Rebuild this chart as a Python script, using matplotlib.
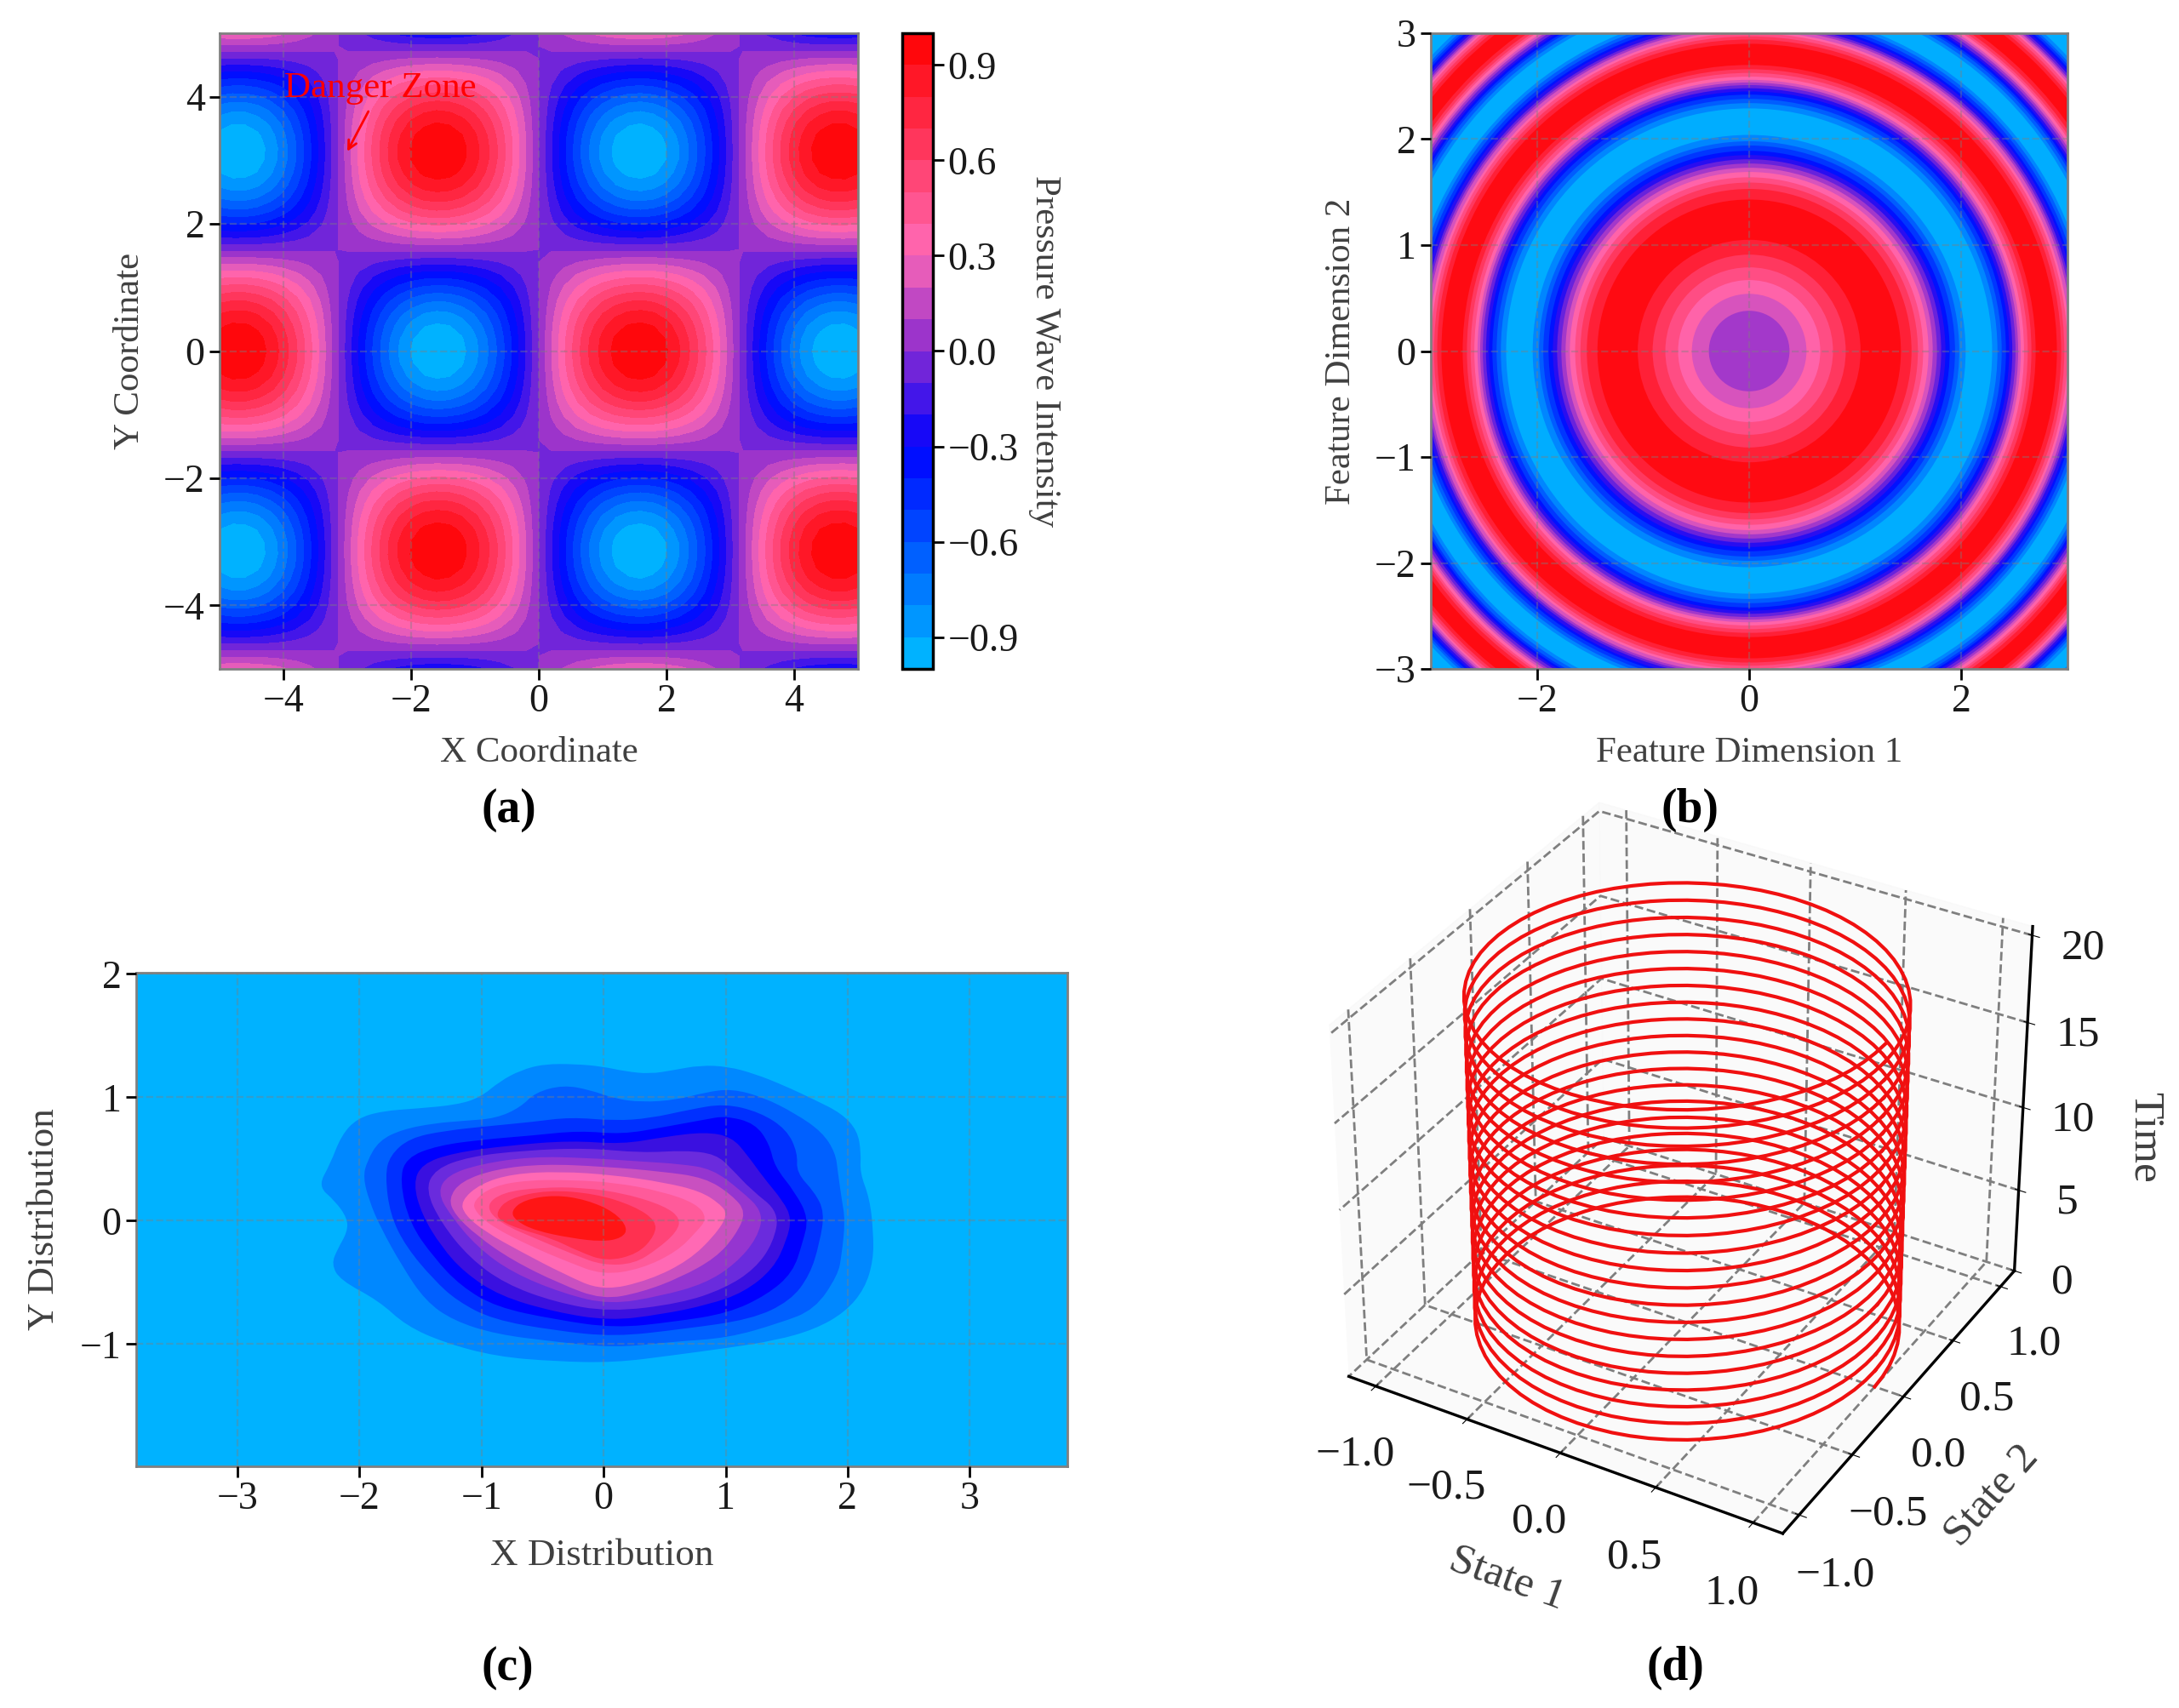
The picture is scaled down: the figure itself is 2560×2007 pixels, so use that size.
import numpy as np
import matplotlib
matplotlib.use('Agg')
import matplotlib.pyplot as plt
from matplotlib.colors import LinearSegmentedColormap, Normalize
from matplotlib.patches import Circle, PathPatch
from matplotlib.path import Path

# panel (a), the field is the product of these two profiles
a_x = [-5.0, -4.8, -4.6, -4.4, -4.2, -4.0, -3.8, -3.6, -3.4, -3.2, -3.0, -2.8, -2.6, -2.4, -2.2, -2.0, -1.8,
       -1.6, -1.4, -1.2, -1.0, -0.8, -0.6, -0.4, -0.2, 0.0, 0.2, 0.4, 0.6, 0.8, 1.0, 1.2, 1.4, 1.6, 1.8, 2.0,
       2.2, 2.4, 2.6, 2.8, 3.0, 3.2, 3.4, 3.6, 3.8, 4.0, 4.2, 4.4, 4.6, 4.8, 5.0]
a_x_profile = [0.959, 0.996, 0.994, 0.952, 0.872, 0.757, 0.612, 0.443, 0.256, 0.058, -0.141, -0.335, -0.516,
               -0.675, -0.808, -0.909, -0.974, -1.0, -0.985, -0.932, -0.841, -0.717, -0.565, -0.389, -0.199,
               0.0, 0.199, 0.389, 0.565, 0.717, 0.841, 0.932, 0.985, 1.0, 0.974, 0.909, 0.808, 0.675, 0.516,
               0.335, 0.141, -0.058, -0.256, -0.443, -0.612, -0.757, -0.872, -0.952, -0.994, -0.996, -0.959]
a_y = a_x
a_y_profile = [0.284, 0.087, -0.112, -0.307, -0.490, -0.654, -0.791, -0.897, -0.967, -0.998, -0.990, -0.942,
               -0.857, -0.737, -0.589, -0.416, -0.227, -0.029, 0.170, 0.362, 0.540, 0.697, 0.825, 0.921, 0.980,
               1.0, 0.980, 0.921, 0.825, 0.697, 0.540, 0.362, 0.170, -0.029, -0.227, -0.416, -0.589, -0.737,
               -0.857, -0.942, -0.990, -0.998, -0.967, -0.897, -0.791, -0.654, -0.490, -0.307, -0.112, 0.087, 0.284]
a_levels = [-1.0, -0.9, -0.8, -0.7, -0.6, -0.5, -0.4, -0.3, -0.2, -0.1, 0.0, 0.1, 0.2, 0.3, 0.4, 0.5, 0.6, 0.7, 0.8, 0.9, 1.0]
a_cbar_ticks = [-0.9, -0.6, -0.3, 0.0, 0.3, 0.6, 0.9]

# panel (b), outer radius and value of each ring, from the centre out
b_ring_radius = [0.38, 0.54, 0.67, 0.79, 0.91, 1.05, 1.43, 1.53, 1.59, 1.64, 1.69, 1.73, 1.77,
                 1.81, 1.85, 1.89, 1.94, 1.98, 2.04, 2.29, 2.34, 2.38, 2.42, 2.45, 2.48, 2.51,
                 2.535, 2.56, 2.59, 2.625, 2.66, 2.70, 2.90, 2.94, 2.97, 3.00, 3.02, 3.05, 3.07,
                 3.09, 3.12, 3.14, 3.17, 3.20, 3.23, 3.40, 3.43, 3.46, 3.48, 3.50, 3.52, 3.545,
                 3.565, 3.585, 3.61, 3.63, 3.655, 3.69, 3.83, 3.86, 3.885, 3.91, 3.925, 3.945, 3.96,
                 3.98, 4.0, 4.02, 4.04, 4.06, 4.09, 4.22, 4.25]
b_hump_up = [0.07, 0.21, 0.36, 0.50, 0.64, 0.79, 0.93, 0.79, 0.64, 0.50, 0.36, 0.21, 0.07]
b_hump_down = [-0.07, -0.21, -0.36, -0.50, -0.64, -0.79, -0.93, -0.79, -0.64, -0.50, -0.36, -0.21, -0.07]
b_ring_value = b_hump_up + b_hump_down + b_hump_up + b_hump_down + b_hump_up + b_hump_down[:8]

# panel (c), contour outlines, outermost first
c_band_01 = [(-2.34, .28), (-2.24, .46), (-2.15, .69), (-2.02, .83), (-1.81, .89), (-1.52, .91), (-1.20, .94),
             (-1.01, 1.00), (-.85, 1.13), (-.68, 1.22), (-.49, 1.27), (-.23, 1.27), (-.01, 1.25), (.18, 1.21),
             (.38, 1.19), (.57, 1.22), (.79, 1.26), (1.02, 1.25), (1.24, 1.19), (1.47, 1.10), (1.73, .98),
             (1.95, .87), (2.08, .73), (2.11, .55), (2.10, .39), (2.18, .18), (2.21, -.09), (2.21, -.32),
             (2.14, -.55), (1.98, -.74), (1.73, -.88), (1.41, -.97), (1.02, -1.03), (.57, -1.09), (.09, -1.15),
             (-.40, -1.14), (-.88, -1.10), (-1.30, -.99), (-1.62, -.85), (-1.84, -.65), (-2.16, -.48),
             (-2.23, -.35), (-2.18, -.23), (-2.10, -.09), (-2.10, .02), (-2.20, .16)]
c_band_02 = [(-1.97, .35), (-1.94, .48), (-1.84, .65), (-1.65, .74), (-1.39, .79), (-1.14, .81), (-.88, .83),
             (-.68, .92), (-.56, 1.04), (-.33, 1.10), (-.11, 1.06), (.09, .99), (.31, .96), (.60, .98), (.83, 1.04),
             (1.05, 1.07), (1.31, 1.00), (1.57, .87), (1.79, .72), (1.90, .55), (1.92, .39), (1.95, .18), (1.98, 0),
             (1.95, -.28), (1.92, -.44), (1.73, -.72), (1.44, -.83), (1.02, -.95), (.57, -.98), (.09, -1.03),
             (-.40, -.98), (-.88, -.92), (-1.23, -.81), (-1.46, -.65), (-1.65, -.37), (-1.83, -.05), (-1.92, .16)]
c_band_03 = [(-1.79, .37), (-1.75, .53), (-1.59, .67), (-1.30, .73), (-.91, .77), (-.59, .80), (-.27, .84), (.09, .81),
             (.38, .83), (.70, .90), (.99, .95), (1.28, .88), (1.50, .74), (1.59, .55), (1.58, .39), (1.73, .23),
             (1.81, .07), (1.77, -.18), (1.69, -.44), (1.53, -.65), (1.21, -.80), (.63, -.88), (.09, -.94),
             (-.40, -.89), (-.91, -.80), (-1.20, -.65), (-1.39, -.48), (-1.62, -.21), (-1.75, .05)]
c_band_04 = [(-1.67, .32), (-1.62, .51), (-1.36, .61), (-.97, .66), (-.59, .69), (-.20, .73), (.15, .70), (.50, .76),
             (.83, .82), (1.00, .85), (1.24, .79), (1.36, .62), (1.40, .44), (1.57, .23), (1.68, .02), (1.63, -.18),
             (1.55, -.42), (1.34, -.60), (1.02, -.75), (.57, -.82), (.09, -.87), (-.40, -.80), (-.88, -.70),
             (-1.17, -.53), (-1.39, -.30), (-1.59, -.02)]
c_band_05 = [(-1.56, .30), (-1.49, .46), (-1.23, .55), (-.78, .61), (-.27, .65), (.15, .62), (.50, .68), (.83, .72),
             (1.05, .68), (1.18, .53), (1.31, .35), (1.47, .16), (1.54, .02), (1.50, -.16), (1.39, -.39), (1.15, -.58),
             (.86, -.68), (.47, -.76), (.05, -.81), (-.40, -.74), (-.85, -.61), (-1.14, -.42), (-1.33, -.21), (-1.49, .05)]
c_band_06 = [(-1.46, .25), (-1.38, .42), (-1.10, .52), (-.65, .57), (-.14, .59), (.31, .55), (.67, .57), (.92, .54),
             (1.05, .42), (1.21, .25), (1.44, .07), (1.39, -.18), (1.24, -.39), (.99, -.55), (.63, -.67), (.05, -.74),
             (-.40, -.66), (-.81, -.51), (-1.10, -.30), (-1.33, -.02)]
c_band_07 = [(-1.36, .23), (-1.28, .37), (-1.01, .46), (-.59, .52), (-.14, .51), (.31, .48), (.63, .46), (.89, .42),
             (1.12, .25), (1.31, .07), (1.26, -.14), (1.08, -.35), (.83, -.51), (.47, -.61), (.05, -.68), (-.33, -.59),
             (-.75, -.42), (-1.04, -.21), (-1.26, .05)]
c_band_08 = [(-1.27, .18), (-1.17, .32), (-.88, .42), (-.49, .46), (-.01, .44), (.47, .40), (.83, .35), (1.05, .21),
             (1.17, .07), (1.08, -.12), (.92, -.30), (.63, -.46), (.31, -.58), (-.01, -.64), (-.36, -.51), (-.75, -.32),
             (-1.04, -.12), (-1.22, .05)]
c_band_09 = [(-1.17, .16), (-1.01, .30), (-.75, .38), (-.36, .40), (.09, .37), (.50, .31), (.79, .24), (.95, .14),
             (1.02, .05), (.91, -.12), (.70, -.32), (.38, -.48), (-.01, -.57), (-.33, -.43), (-.68, -.25), (-.97, -.09),
             (-1.14, .05)]
c_band_10 = [(-1.07, .16), (-.91, .28), (-.62, .33), (-.27, .33), (.09, .31), (.47, .24), (.76, .14), (.85, .02),
             (.76, -.09), (.60, -.25), (.31, -.39), (-.01, -.44), (-.30, -.33), (-.59, -.21), (-.91, -.05), (-1.05, .07)]
c_band_11 = [(-.97, .12), (-.83, .23), (-.52, .27), (-.17, .27), (.18, .22), (.50, .12), (.63, .02), (.60, -.09),
             (.44, -.23), (.25, -.35), (-.01, -.36), (-.23, -.28), (-.52, -.16), (-.85, -.02)]
c_band_12 = [(-.88, .07), (-.78, .18), (-.46, .25), (-.07, .22), (.25, .12), (.43, 0), (.42, -.12), (.28, -.27),
             (.02, -.33), (-.20, -.25), (-.43, -.14), (-.68, -.07), (-.85, 0)]
c_band_13 = [(-.76, .08), (-.65, .17), (-.40, .21), (-.14, .17), (.09, .07), (.20, -.06), (.15, -.14), (-.01, -.17),
             (-.27, -.14), (-.56, -.08), (-.72, 0)]
c_bands = [c_band_01, c_band_02, c_band_03, c_band_04, c_band_05, c_band_06, c_band_07, c_band_08, c_band_09,
           c_band_10, c_band_11, c_band_12, c_band_13]
c_band_colors = ['#0088FF', '#0060FF', '#0030FF', '#0000FF', '#3A10E0', '#6A2BDD', '#9535D0', '#C950C0',
                 '#FF69B4', '#FF5A9A', '#FF4478', '#FF3050', '#FF1515']

# panel (d), one loop of the trajectory and the time each loop starts at
d_state_1 = [1.0, 0.996, 0.985, 0.966, 0.940, 0.906, 0.866, 0.819, 0.766, 0.707, 0.643, 0.574, 0.5, 0.423, 0.342, 0.259,
             0.174, 0.087, 0.0, -0.087, -0.174, -0.259, -0.342, -0.423, -0.5, -0.574, -0.643, -0.707, -0.766, -0.819,
             -0.866, -0.906, -0.940, -0.966, -0.985, -0.996, -1.0, -0.996, -0.985, -0.966, -0.940, -0.906, -0.866,
             -0.819, -0.766, -0.707, -0.643, -0.574, -0.5, -0.423, -0.342, -0.259, -0.174, -0.087, 0.0, 0.087, 0.174,
             0.259, 0.342, 0.423, 0.5, 0.574, 0.643, 0.707, 0.766, 0.819, 0.866, 0.906, 0.940, 0.966, 0.985, 0.996, 1.0]
d_state_2 = [0.0, 0.087, 0.174, 0.259, 0.342, 0.423, 0.5, 0.574, 0.643, 0.707, 0.766, 0.819, 0.866, 0.906, 0.940, 0.966,
             0.985, 0.996, 1.0, 0.996, 0.985, 0.966, 0.940, 0.906, 0.866, 0.819, 0.766, 0.707, 0.643, 0.574, 0.5, 0.423,
             0.342, 0.259, 0.174, 0.087, 0.0, -0.087, -0.174, -0.259, -0.342, -0.423, -0.5, -0.574, -0.643, -0.707,
             -0.766, -0.819, -0.866, -0.906, -0.940, -0.966, -0.985, -0.996, -1.0, -0.996, -0.985, -0.966, -0.940,
             -0.906, -0.866, -0.819, -0.766, -0.707, -0.643, -0.574, -0.5, -0.423, -0.342, -0.259, -0.174, -0.087, 0.0]
d_loop_time = [0.0, 0.014, 0.028, 0.042, 0.056, 0.069, 0.083, 0.097, 0.111, 0.125, 0.139, 0.153, 0.167, 0.181, 0.194,
               0.208, 0.222, 0.236, 0.25, 0.264, 0.278, 0.292, 0.306, 0.319, 0.333, 0.347, 0.361, 0.375, 0.389, 0.403,
               0.417, 0.431, 0.444, 0.458, 0.472, 0.486, 0.5, 0.514, 0.528, 0.542, 0.556, 0.569, 0.583, 0.597, 0.611,
               0.625, 0.639, 0.653, 0.667, 0.681, 0.694, 0.708, 0.722, 0.736, 0.75, 0.764, 0.778, 0.792, 0.806, 0.819,
               0.833, 0.847, 0.861, 0.875, 0.889, 0.903, 0.917, 0.931, 0.944, 0.958, 0.972, 0.986, 1.0]
d_loop_start = [0, 1, 2, 3, 4, 5, 6, 7, 8, 9, 10, 11, 12, 13, 14, 15, 16, 17, 18, 19]

W, H = 2560, 2007
FS = 31
TICK_FS = 33
FS_3D = 37

plt.rcParams['font.family'] = ['Liberation Serif', 'DejaVu Serif']
plt.rcParams['font.size'] = FS
plt.rcParams['grid.color'] = '#7f7f7f'
plt.rcParams['grid.linestyle'] = '--'
plt.rcParams['grid.linewidth'] = 2.0

cmap = LinearSegmentedColormap.from_list('pressure', [(0.0, '#00BFFF'), (0.35, '#0000FF'), (0.52, '#9932CC'),
                                                      (0.66, '#FF69B4'), (1.0, '#FF0000')], N=512)
norm = Normalize(-1, 1)


def px_axes(left, top, right, bottom, **kw):
    return fig.add_axes([left / W, 1 - bottom / H, (right - left) / W, (bottom - top) / H], **kw)


def style_2d(ax):
    for sp in ax.spines.values():
        sp.set_color('#808080')
        sp.set_linewidth(2)
    ax.tick_params(length=9, width=2, color='black', labelcolor='#1a1a1a', labelsize=TICK_FS)
    ax.grid(True, alpha=0.4, linewidth=1.6)
    ax.set_axisbelow(False)


def smooth_patch(points, color):
    # closed quadratic path, the typed points are the control points
    pts = np.array(points)
    mids = (pts + np.roll(pts, -1, axis=0)) / 2
    verts = [mids[-1]]
    codes = [Path.MOVETO]
    for p, m in zip(pts, mids):
        verts += [p, m]
        codes += [Path.CURVE3, Path.CURVE3]
    return PathPatch(Path(verts, codes), facecolor=color, edgecolor='none', zorder=1)


fig = plt.figure(figsize=(W / 100, H / 100), dpi=100)

# (a)
ax = px_axes(258, 39, 1008, 786)
field = np.outer(a_y_profile, a_x_profile)
cf = ax.contourf(a_x, a_y, field, levels=a_levels, cmap=cmap, norm=norm)
style_2d(ax)
ax.set_xlim(-5, 5)
ax.set_ylim(-5, 5)
ax.set_xticks([-4, -2, 0, 2, 4])
ax.set_yticks([-4, -2, 0, 2, 4])
ax.set_xlabel('X Coordinate', color='#404040', labelpad=14)
ax.set_ylabel('Y Coordinate', color='#404040', labelpad=14)
ax.annotate('Danger Zone', xy=(-3, 3.14), xytext=(-2.48, 4.13), color='red', fontsize=FS, ha='center', va='center',
            arrowprops=dict(arrowstyle='->', color='red', lw=2, mutation_scale=18, shrinkB=0, shrinkA=4))
cax = px_axes(1060, 39, 1096, 786)
cb = fig.colorbar(cf, cax=cax)
cb.set_ticks(a_cbar_ticks)
cb.outline.set_linewidth(2.5)
cb.ax.tick_params(length=9, width=2, labelcolor='#1a1a1a', labelsize=TICK_FS)
cb.set_label('Pressure Wave Intensity', rotation=270, color='#404040', labelpad=36)

# (b)
ax = px_axes(1681, 39, 2429, 786)
for r, v in zip(b_ring_radius[::-1], b_ring_value[::-1]):
    ax.add_patch(Circle((0, 0), r, facecolor=cmap(norm(v)), edgecolor='none', zorder=1))
style_2d(ax)
ax.set_xlim(-3, 3)
ax.set_ylim(-3, 3)
ax.set_xticks([-2, 0, 2])
ax.set_yticks([-3, -2, -1, 0, 1, 2, 3])
ax.set_xlabel('Feature Dimension 1', color='#404040', labelpad=14)
ax.set_ylabel('Feature Dimension 2', color='#404040', labelpad=14)

# (c)
ax = px_axes(160, 1143, 1254, 1723)
ax.set_facecolor(cmap(norm(-0.95)))
for band, col in zip(c_bands, c_band_colors):
    ax.add_patch(smooth_patch(band, col))
style_2d(ax)
ax.set_xlim(-3.83, 3.80)
ax.set_ylim(-1.99, 2.01)
ax.set_xticks([-3, -2, -1, 0, 1, 2, 3])
ax.set_yticks([-1, 0, 1, 2])
ax.set_xlabel('X Distribution', color='#404040', labelpad=18, fontsize=FS + 1.5)
ax.set_ylabel('Y Distribution', color='#404040', labelpad=16, fontsize=FS + 1.5)

# (d)
ax = px_axes(1480, 908, 2460, 1828, projection='3d')
for start in d_loop_start:
    ax.plot(d_state_1, d_state_2, [start + t for t in d_loop_time], color='#F01010', lw=3.0)
ax.view_init(elev=34, azim=-60)
ax.set_box_aspect((4, 4, 3.35), zoom=1.02)
ax.set_xlim(-1.15, 1.15)
ax.set_ylim(-1.15, 1.15)
ax.set_zlim(0, 20.5)
ax.set_xticks([-1, -0.5, 0, 0.5, 1])
ax.set_yticks([-1, -0.5, 0, 0.5, 1])
ax.set_zticks([0, 5, 10, 15, 20])
ax.set_xticklabels(['\u22121.0', '\u22120.5', '0.0', '0.5', '1.0'])
ax.set_yticklabels(['\u22121.0', '\u22120.5', '0.0', '0.5', '1.0'])
for axis in (ax.xaxis, ax.yaxis, ax.zaxis):
    axis.set_pane_color((0.97, 0.97, 0.97, 0.6))
    axis.line.set_linewidth(2.4)
    axis.line.set_color('black')
ax.tick_params(axis='x', pad=20, labelcolor='#1a1a1a', labelsize=FS_3D)
ax.tick_params(axis='y', pad=20, labelcolor='#1a1a1a', labelsize=FS_3D)
ax.tick_params(axis='z', pad=18, labelcolor='#1a1a1a', labelsize=FS_3D)
ax.set_xlabel('State 1', color='#404040', labelpad=50, fontsize=FS_3D)
ax.set_ylabel('State 2', color='#404040', labelpad=50, fontsize=FS_3D)
fig.text(2520 / W, 1 - 1336 / H, 'Time', rotation=270, color='#404040', fontsize=FS_3D, ha='center', va='center')

# panel letters
for lab, x, y in [('(a)', 598, 952), ('(b)', 1986, 952), ('(c)', 596, 1960), ('(d)', 1968, 1960)]:
    fig.text(x / W, 1 - y / H, lab, fontsize=40, fontweight='bold', ha='center', va='center', color='black')

fig.savefig('out.png', dpi=100)
